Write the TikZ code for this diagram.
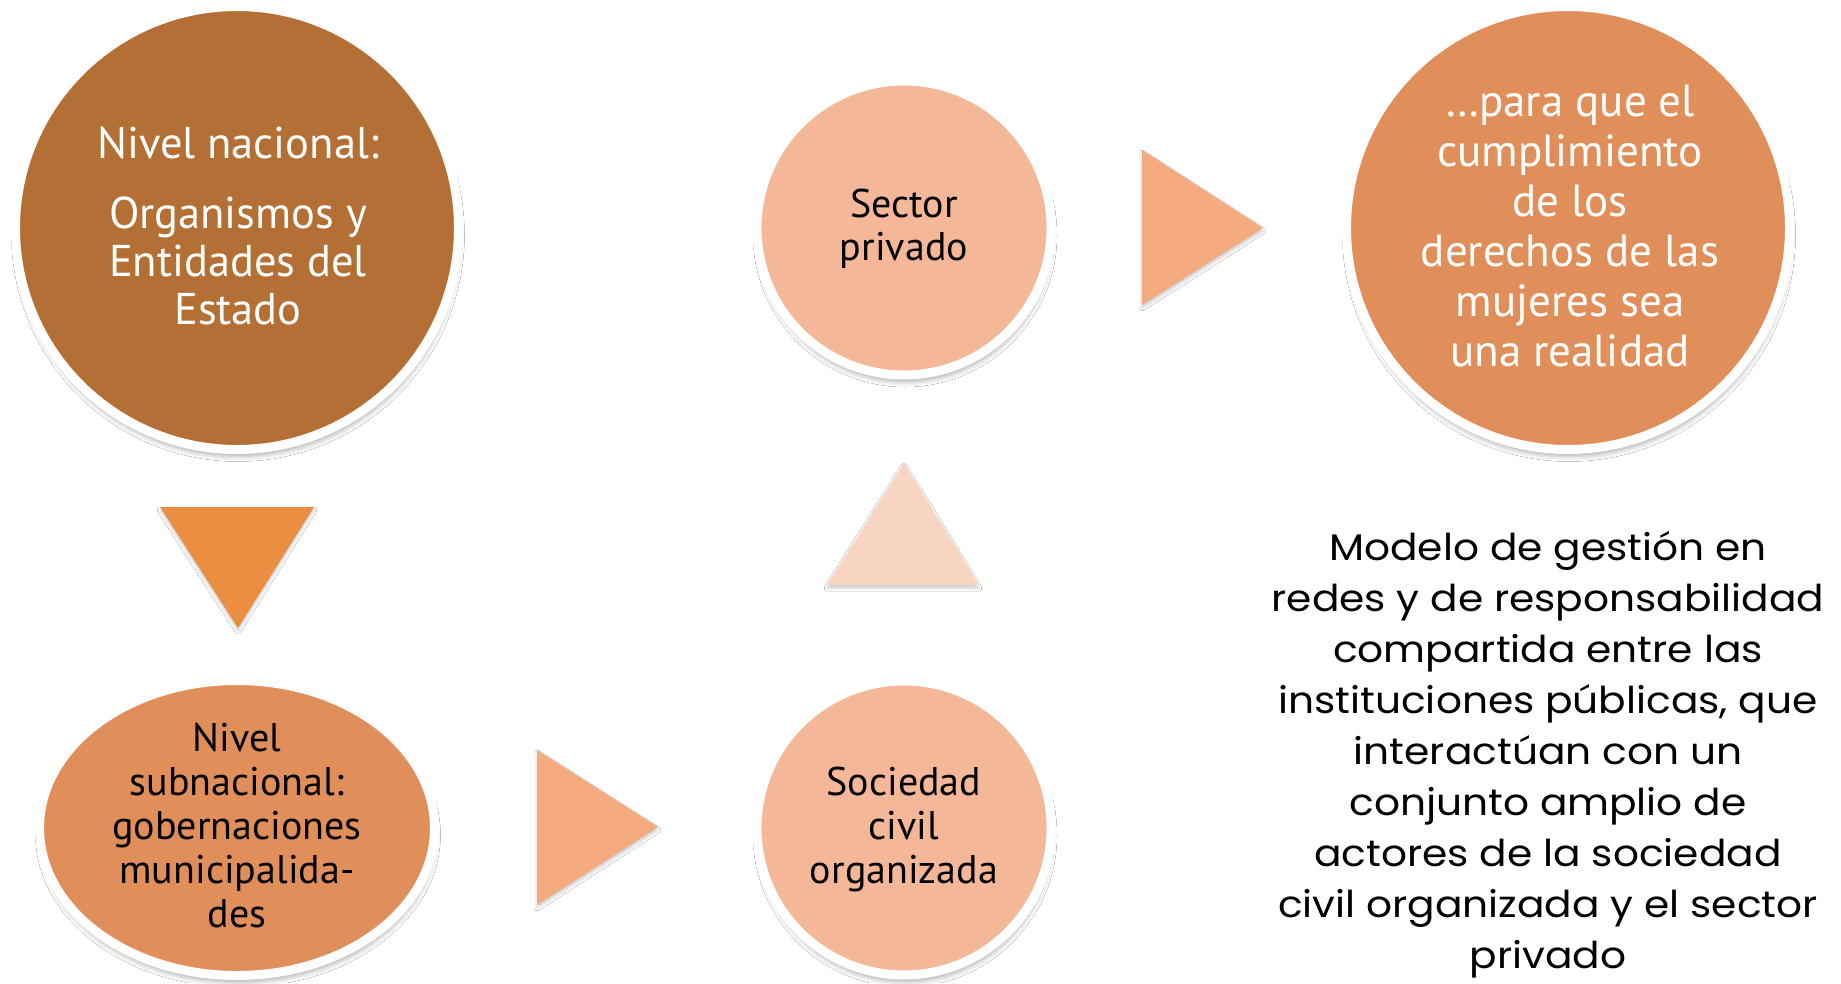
\documentclass[tikz,border=0pt]{standalone}
\usepackage{fontspec}
\setmainfont{PT Sans}
\newfontfamily\gothic[FakeStretch=1.1]{Poppins}
\usetikzlibrary{shapes.geometric,shadows.blur}
\definecolor{cBrown}{RGB}{180,111,52}
\definecolor{cTan}{RGB}{224,143,90}
\definecolor{cSalmon}{RGB}{244,183,151}
\definecolor{cArrow}{RGB}{243,171,127}
\definecolor{cDown}{RGB}{234,142,66}
\definecolor{cUp}{RGB}{248,213,195}
\tikzset{
  disc/.style={circle, draw=white, line width=9pt, inner sep=0pt,
    blur shadow={shadow xshift=1pt, shadow yshift=-7pt, shadow blur radius=5pt, shadow opacity=30}},
  oval/.style={ellipse, draw=white, line width=9pt, inner sep=0pt,
    blur shadow={shadow xshift=1pt, shadow yshift=-7pt, shadow blur radius=5pt, shadow opacity=30}},
  tri/.style={blur shadow={shadow xshift=0pt, shadow yshift=-3pt, shadow blur radius=3pt, shadow opacity=20}},
  lbl/.style={align=center, inner sep=0pt},
}
\begin{document}
\begin{tikzpicture}[x=1pt,y=-1pt]
\useasboundingbox (0,0) rectangle (1841,983);
\fill[white] (0,0) rectangle (1841,983);

% circles
\node[disc, fill=cBrown, minimum size=443pt] (c1) at (237,228) {};
\node[disc, fill=cSalmon, minimum size=294pt] (sp) at (904,228) {};
\node[disc, fill=cTan, minimum size=443pt] (c3) at (1568,228) {};
\node[oval, fill=cTan, minimum width=395pt, minimum height=295pt] (c4) at (237,828) {};
\node[disc, fill=cSalmon, minimum size=294pt] (sc) at (904,828) {};

% triangles
\fill[cDown, tri] (160,507) -- (314,507) -- (238,628) -- cycle;
\fill[cArrow, tri] (537,750) -- (537,905) -- (658,827) -- cycle;
\fill[cUp, tri] (827,585) -- (979,585) -- (904,463) -- cycle;
\fill[cArrow, tri] (1142,150) -- (1142,305) -- (1263,228) -- cycle;

% labels
\node[lbl, text=white, font=\fontsize{44.5}{48}\selectfont] (t1) at (238,226)
  {Nivel nacional:\\[22pt]Organismos y\\Entidades del\\Estado};
\node[lbl, font=\fontsize{40}{43}\selectfont] (tsp) at (904,229) {Sector\\privado};
\node[lbl, text=white, font=\fontsize{45}{50}\selectfont] (t3) at (1570,226)
  {…para que el\\cumplimiento\\de los\\derechos de las\\mujeres sea\\una realidad};
\node[lbl, font=\fontsize{40}{44}\selectfont] (t4) at (237,826)
  {Nivel\\subnacional:\\gobernaciones\\municipalida-\\des};
\node[lbl, font=\fontsize{40}{44}\selectfont] (tsc) at (904,829)
  {Sociedad\\civil\\organizada};
\node[lbl, font=\gothic\fontsize{37}{51}\selectfont] (tm) at (1548,755)
  {Modelo de gestión en\\redes y de responsabilidad\\compartida entre las\\instituciones públicas, que\\interactúan con un\\conjunto amplio de\\actores de la sociedad\\civil organizada y el sector\\privado};
\end{tikzpicture}
\end{document}
